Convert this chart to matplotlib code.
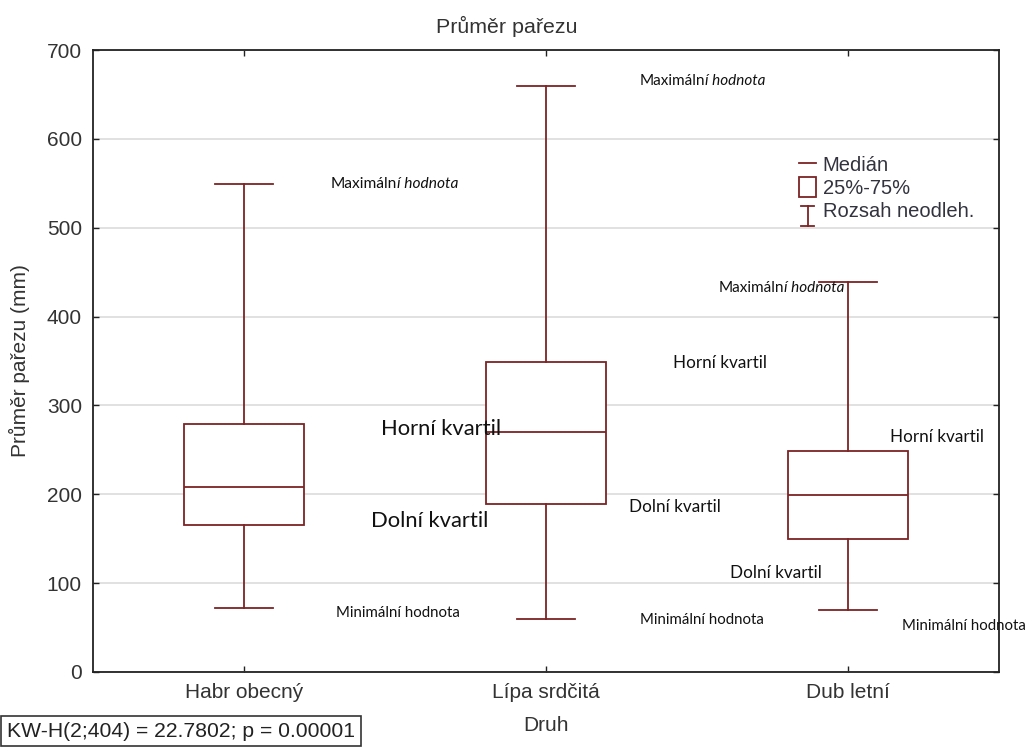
import matplotlib
matplotlib.use("Agg")
import matplotlib.pyplot as plt
from matplotlib.lines import Line2D
from matplotlib.patches import Rectangle
from matplotlib.legend_handler import HandlerBase

# Box plot summary per species (stump diameter, mm)
categories = ["Habr obecný", "Lípa srdčitá", "Dub letní"]
minimum = [72, 60, 70]
q1 = [165, 189, 150]
median = [208, 270, 199]
q3 = [279, 349, 249]
maximum = [549, 659, 439]

y_ticks = [0, 100, 200, 300, 400, 500, 600, 700]

title = "Průměr pařezu"
x_label = "Druh"
y_label = "Průměr pařezu (mm)"
stat_text = "KW-H(2;404) = 22.7802; p = 0.00001"
legend_labels = ["Medián", "25%-75%", "Rozsah neodleh."]

BOX_COLOR = "#7d2324"
SANS = ["Liberation Sans", "DejaVu Sans"]
NOTE_FONT = ["Lato", "DejaVu Sans"]

plt.rcParams["font.family"] = SANS

fig = plt.figure(figsize=(10.27, 7.51), dpi=100)
ax = fig.add_axes([0.0906, 0.1052, 0.8821, 0.8282])

stats = []
for i, name in enumerate(categories):
    stats.append({
        "label": name,
        "whislo": minimum[i],
        "q1": q1[i],
        "med": median[i],
        "q3": q3[i],
        "whishi": maximum[i],
        "fliers": [],
    })

line_kw = dict(color=BOX_COLOR, linewidth=1.3)
ax.bxp(
    stats,
    positions=[1, 2, 3],
    widths=0.4,
    capwidths=0.195,
    showfliers=False,
    patch_artist=True,
    boxprops=dict(facecolor="white", edgecolor=BOX_COLOR, linewidth=1.3),
    medianprops=line_kw,
    whiskerprops=line_kw,
    capprops=line_kw,
    zorder=3,
)

ax.set_xlim(0.5, 3.5)
ax.set_ylim(0, 700)
ax.set_yticks(y_ticks)
ax.set_xticks([1, 2, 3])
ax.set_xticklabels(categories)
ax.grid(axis="y", color="#dcdcdc", linewidth=1.2, zorder=0)
ax.set_axisbelow(True)
ax.tick_params(direction="in", length=4, width=1, colors="#222222",
               labelsize=15, labelcolor="#333333", top=True, right=True, pad=8)
for s in ax.spines.values():
    s.set_linewidth(1.3)
    s.set_color("#222222")

ax.set_title(title, fontsize=15.4, color="#333333", pad=12, x=0.457)
ax.set_xlabel(x_label, fontsize=15, color="#333333", labelpad=10)
ax.set_ylabel(y_label, fontsize=15, color="#333333", labelpad=12)


# Annotations describing the box plot elements
def note(x, y, text, size, italic_tail=None):
    t = ax.text(x, y, text, fontsize=size, family=NOTE_FONT, color="#111111",
                ha="left", va="center", clip_on=False, zorder=5)
    if italic_tail:
        ax.annotate(italic_tail, xy=(1, 0), xycoords=t, fontsize=size,
                    family=NOTE_FONT, style="italic", color="#111111",
                    ha="left", va="bottom", annotation_clip=False, zorder=5)
    return t


note(1.288, 549, "Maximáln", 11.2, "í hodnota")
note(2.311, 665, "Maximáln", 11.0, "í hodnota")
note(2.570, 432, "Maximáln", 11.0, "í hodnota")
note(1.454, 274, "Horní kvartil", 15.8)
note(1.420, 170, "Dolní kvartil", 15.8)
note(2.420, 348, "Horní kvartil", 12.3)
note(2.275, 186, "Dolní kvartil", 12.3)
note(3.140, 264, "Horní kvartil", 12.3)
note(2.610, 111, "Dolní kvartil", 12.3)
note(1.305, 66, "Minimální hodnota", 10.8)
note(2.310, 58, "Minimální hodnota", 10.8)
note(3.180, 52, "Minimální hodnota", 10.8)


# Legend handle: whisker range drawn as an I-beam
class RangeHandler(HandlerBase):
    def create_artists(self, legend, orig_handle, xdescent, ydescent,
                       width, height, fontsize, trans):
        cx = width / 2 - xdescent
        top = height - 2 - ydescent
        bot = -6 - ydescent
        half = width * 0.3
        lines = [
            Line2D([cx, cx], [bot, top]),
            Line2D([cx - half, cx + half], [top, top]),
            Line2D([cx - half, cx + half], [bot, bot]),
        ]
        for ln in lines:
            ln.set_color(BOX_COLOR)
            ln.set_linewidth(1.3)
            ln.set_transform(trans)
        return lines


class BoxHandler(HandlerBase):
    def create_artists(self, legend, orig_handle, xdescent, ydescent,
                       width, height, fontsize, trans):
        w = width * 0.85
        x0 = (width - w) / 2 - xdescent
        r = Rectangle((x0, -ydescent - 2), w, height + 4, facecolor="white",
                      edgecolor=BOX_COLOR, linewidth=1.3, transform=trans)
        return [r]


class MedianHandler(HandlerBase):
    def create_artists(self, legend, orig_handle, xdescent, ydescent,
                       width, height, fontsize, trans):
        w = width * 0.85
        x0 = (width - w) / 2 - xdescent
        y = height / 2 - ydescent
        ln = Line2D([x0, x0 + w], [y, y], color=BOX_COLOR, linewidth=1.3,
                    transform=trans)
        return [ln]


h_med = object()
h_box = object()
h_rng = object()
leg = ax.legend(
    [h_med, h_box, h_rng], legend_labels,
    handler_map={h_med: MedianHandler(), h_box: BoxHandler(), h_rng: RangeHandler()},
    loc="upper left", bbox_to_anchor=(0.762, 0.853),
    frameon=False, fontsize=14.5, handlelength=1.0, handletextpad=0.25,
    labelspacing=0.22, borderpad=0.2,
)
for t in leg.get_texts():
    t.set_color("#333340")

# Kruskal-Wallis result box
fig.text(0.0068, 0.0266, stat_text, fontsize=15.2, color="#222222",
         ha="left", va="center",
         bbox=dict(boxstyle="square,pad=0.28", facecolor="white",
                   edgecolor="#333333", linewidth=1.2))

fig.savefig("out.png", dpi=100)
